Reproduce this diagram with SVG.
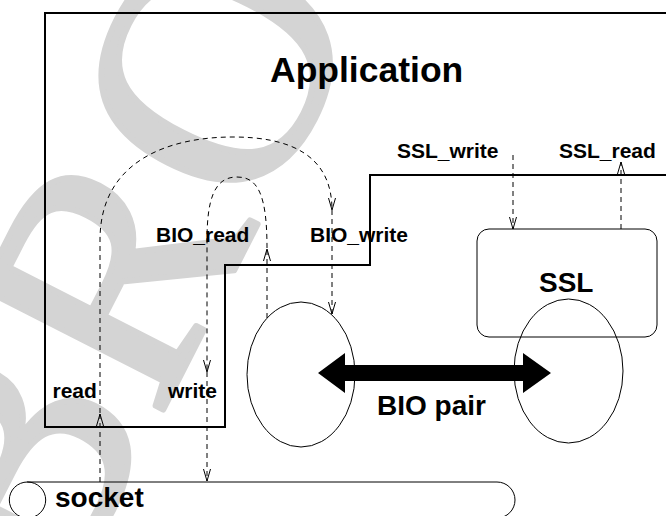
<svg xmlns="http://www.w3.org/2000/svg" width="666" height="516" viewBox="0 0 666 516">
<defs>
<marker id="v" markerUnits="userSpaceOnUse" markerWidth="14" markerHeight="9" refX="13" refY="4" orient="auto">
<path d="M1,0.5 L13,4 L1,7.5" fill="none" stroke="#000" stroke-width="1"/>
</marker>
<style>
.wm{font-family:"Liberation Serif","Times New Roman",serif;font-size:330px;fill:#d4d4d4;stroke:#d4d4d4;stroke-width:6;stroke-linejoin:round}
.t{font-family:"Liberation Sans",Arial,sans-serif;font-weight:bold;fill:#000}
.s{font-size:21px}
.m{font-size:28px}
.dash{fill:none;stroke:#000;stroke-width:1;stroke-dasharray:5 4;marker-end:url(#v)}
.thin{fill:none;stroke:#000;stroke-width:1}
</style>
</defs>
<rect width="666" height="516" fill="#fff"/>
<text class="wm" transform="translate(58,616) rotate(-63)">BRO</text>

<g id="application">
<path d="M666,13 H45 V427 H225 V265 H370 V175 H666" fill="none" stroke="#000" stroke-width="2"/>
<text class="t" x="270" y="82" font-size="35.5">Application</text>
</g>

<g id="ssl">
<rect class="thin" x="477" y="229" width="180" height="108" rx="12" ry="12"/>
<text class="t m" x="539" y="292">SSL</text>
</g>

<g id="bio-left">
<ellipse class="thin" cx="301" cy="374.5" rx="54" ry="72.5"/>
</g>

<g id="bio-right">
<ellipse class="thin" cx="568.5" cy="371" rx="54.5" ry="72"/>
</g>

<g id="socket">
<path class="thin" d="M27,482 H497 A18,18 0 0 1 497,518 H27"/>
<ellipse class="thin" cx="27.5" cy="500" rx="18.2" ry="18"/>
<text class="t m" x="55" y="507">socket</text>
</g>

<g id="connectors">
<path class="dash" d="M100,482 V414"/>
<path class="dash" d="M100,413 V240 C100,160 170,137 233,137 C290,137 332,155 332,210"/>
<path class="dash" d="M332,210 V314"/>
<path class="dash" d="M267,318 V249"/>
<path class="dash" d="M267,248 C267,195 258,177 237,177 C214,177 207,200 207,240 V372"/>
<path class="dash" d="M207,372 V481"/>
<path class="dash" d="M513,155 V229"/>
<path class="dash" d="M621,229 V162"/>
<path d="M318,373 L345,353 L345,365 L523,365 L523,353 L551,373 L523,393 L523,381 L345,381 L345,393 Z" fill="#000"/>
</g>

<g id="labels">
<text class="t s" x="156" y="242">BIO_read</text>
<text class="t s" x="310" y="242">BIO_write</text>
<text class="t s" x="397" y="158">SSL_write</text>
<text class="t s" x="559" y="158">SSL_read</text>
<text class="t s" x="52.5" y="398">read</text>
<text class="t s" x="168" y="398">write</text>
<text class="t m" x="377" y="415">BIO pair</text>
</g>
</svg>
